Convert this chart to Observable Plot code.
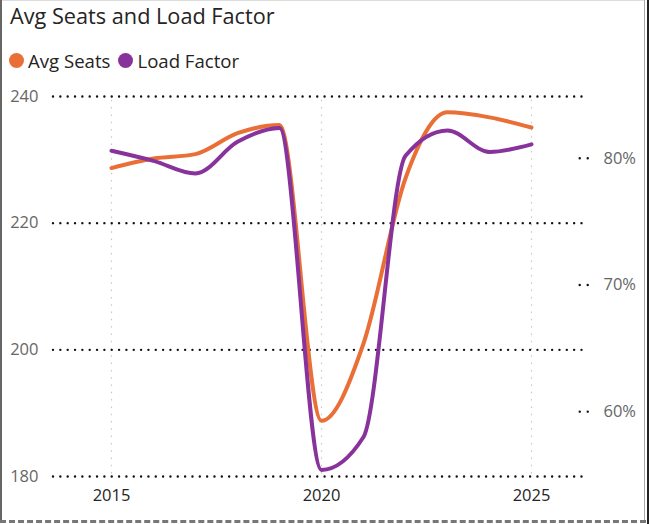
<!DOCTYPE html>
<html>
<head>
<meta charset="utf-8">
<script src="https://cdn.jsdelivr.net/npm/d3@7"></script>
<script src="https://cdn.jsdelivr.net/npm/@observablehq/plot@0.6"></script>
<style>
  html, body { margin: 0; padding: 0; background: #fff; }
  #frame { position: relative; width: 649px; height: 524px; overflow: hidden; font-family: "Open Sans", "DejaVu Sans", sans-serif; }
  #title { position: absolute; left: 10px; top: 1px; font-size: 21.7px; color: #252423; white-space: nowrap; }
  #legend { position: absolute; left: 9px; top: 48px; font-size: 18.6px; color: #252423; display: flex; align-items: center; white-space: nowrap; }
  .sw { display: inline-block; width: 15px; height: 15px; border-radius: 50%; margin-right: 4px; }
  .item { display: inline-flex; align-items: center; margin-right: 8px; }
  #chart { position: absolute; left: 0; top: 80px; }
  #bl { position: absolute; left: 0; top: 0; width: 2px; height: 520px; background: #666; }
  #bb { position: absolute; left: 0; top: 520px; width: 646px; height: 0; border-top: 3px dashed #777; }
  #br1 { position: absolute; left: 644px; top: 0; width: 1px; height: 520px; background: #aaa; }
  #br2 { position: absolute; left: 647px; top: 0; width: 2px; height: 524px; background: #222; }
  #bt { position: absolute; left: 0; top: 0; width: 645px; height: 1px; background: #ddd; }
</style>
</head>
<body>
<div id="frame">
  <div id="title">Avg Seats and Load Factor</div>
  <div id="legend">
    <span class="item"><span class="sw" style="background:#E96F36"></span>Avg Seats</span>
    <span class="item"><span class="sw" style="background:#88339B"></span>Load Factor</span>
  </div>
  <div id="chart"></div>
  <div id="bt"></div><div id="bl"></div><div id="bb"></div><div id="br1"></div><div id="br2"></div>
</div>
<script>
const years = [2015, 2016, 2017, 2018, 2019, 2020, 2021, 2022, 2023, 2024, 2025];
const avgSeats = [228.7, 230.2, 230.9, 234.2, 235.5, 188.8, 201.0, 227.1, 237.5, 236.7, 235.1];
const loadFactor = [80.6, 79.8, 78.8, 81.3, 82.4, 55.4, 58.0, 80.2, 82.2, 80.5, 81.1];
const seatTicks = [180, 200, 220, 240];
const lfTicks = [60, 70, 80];
const xTicks = [2015, 2020, 2025];

const ORANGE = "#E96F36", PURPLE = "#88339B";
// Map load factor (%) onto the seat scale (secondary axis)
const lfToSeat = lf => 230.24 + (lf - 80) * 2;

const seatData = years.map((y, i) => ({year: y, v: avgSeats[i]}));
const lfData = years.map((y, i) => ({year: y, v: lfToSeat(loadFactor[i])}));

const chart = Plot.plot({
  width: 649,
  height: 444,
  marginTop: 16,
  marginBottom: 48,
  marginLeft: 53,
  marginRight: 66,
  style: {fontFamily: "'Open Sans', 'DejaVu Sans', sans-serif", background: "transparent"},
  x: {domain: [2013.619, 2026.238], axis: null},
  y: {domain: [180, 240], axis: null},
  marks: [
    Plot.ruleX(xTicks, {x: d => d, y1: 239.4, y2: 180, stroke: "#c8c8c8", strokeWidth: 1.2, strokeDasharray: "1.5,5.8"}),
    Plot.ruleY(seatTicks, {y: d => d, stroke: "#111", strokeWidth: 2.4, strokeLinecap: "round", strokeDasharray: "0.01,7.33"}),
    Plot.text(seatTicks, {x: 2013.619, y: d => d, text: d => String(d), textAnchor: "end", dx: -15, fill: "#666", fontSize: 16.5}),
    Plot.text(xTicks, {x: d => d, y: 180, text: d => String(d), dy: 19, fill: "#252423", fontSize: 16.5}),
    Plot.ruleY(lfTicks, {y: d => lfToSeat(d), x1: 2026.16, x2: 2026.5, stroke: "#111", strokeWidth: 2.4, strokeLinecap: "round", strokeDasharray: "0.01,8"}),
    Plot.text(lfTicks, {x: 2026.238, y: d => lfToSeat(d), text: d => d + "%", textAnchor: "start", dx: 20, fill: "#666", fontSize: 16.5}),
    Plot.line(seatData, {x: "year", y: "v", stroke: ORANGE, strokeWidth: 4, curve: "monotone-x"}),
    Plot.line(lfData, {x: "year", y: "v", stroke: PURPLE, strokeWidth: 4, curve: "monotone-x"})
  ]
});
document.getElementById("chart").appendChild(chart);
</script>
</body>
</html>
